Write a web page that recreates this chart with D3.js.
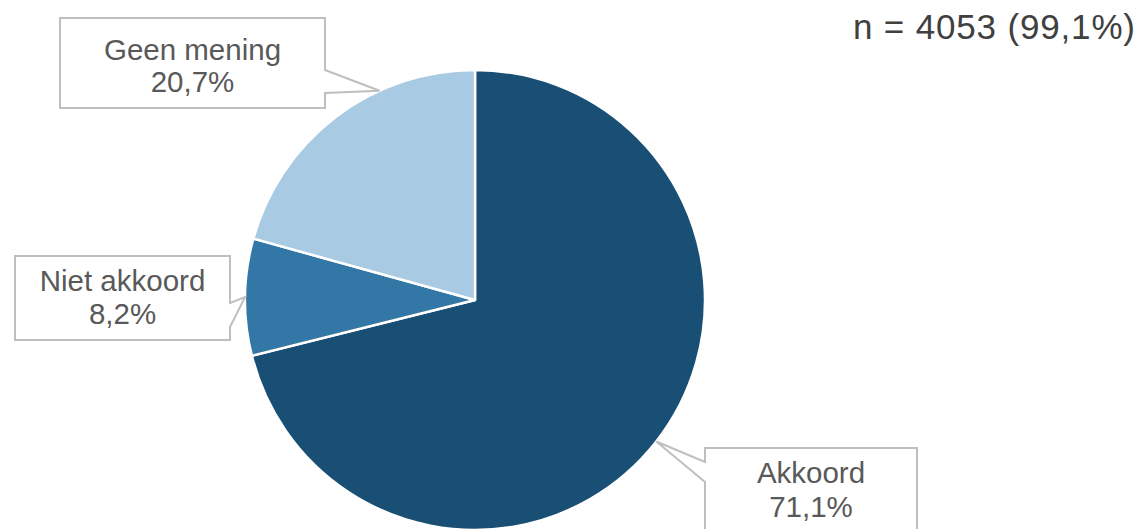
<!DOCTYPE html>
<html><head><meta charset="utf-8">
<script src="https://cdn.jsdelivr.net/npm/d3@7"></script>
<style>
html,body{margin:0;padding:0;background:#fff;}
svg{display:block;}
text{font-family:Arial,"Liberation Sans",sans-serif;fill:#595959;}
</style></head>
<body><svg id="c" width="1141" height="529"></svg>
<script>
const categories = ["Akkoord", "Niet akkoord", "Geen mening"];
const values = [71.1, 8.2, 20.7];
const valueLabels = ["71,1%", "8,2%", "20,7%"];
const colors = ["#1a4f75", "#3277a5", "#a8cbe3"];
const subtitle = "n = 4053 (99,1%)";

const W = 1141, H = 529;
const cx = 475, cy = 300, R = 230;
const svg = d3.select("#c");

const pie = d3.pie().sort(null).value(d => d.v);
const data = pie(categories.map((c, i) => ({c, v: values[i], l: valueLabels[i], col: colors[i]})));
const arc = d3.arc().innerRadius(0).outerRadius(R);

const g = svg.append("g").attr("transform", `translate(${cx},${cy})`);
g.selectAll("path").data(data).join("path")
  .attr("d", arc).attr("fill", d => d.data.col)
  .attr("stroke", "#fff").attr("stroke-width", 2.5).attr("stroke-linejoin", "round");

// callout layout: box rect [x0,y0,x1,y1], side of pointer, base span, anchor angle override
const callouts = [
  {box:[705,448,917,560], side:"left", base:[462,482], angle:null, lines:[483,517]},
  {box:[15,256,230,340], side:"right", base:[303,327], angle:null, lines:[291,324]},
  {box:[60,18,325,108], side:"right", base:[70,93], angle:-0.428, lines:[60,92]}
];

data.forEach((d, i) => {
  const co = callouts[i];
  const a = co.angle !== null ? co.angle : (d.startAngle + d.endAngle) / 2;
  const tx = cx + R * Math.sin(a), ty = cy - R * Math.cos(a);
  const [x0,y0,x1,y1] = co.box;
  let p;
  if (co.side === "left") {
    p = `M${x0},${y0}L${x1},${y0}L${x1},${y1}L${x0},${y1}L${x0},${co.base[1]}L${tx},${ty}L${x0},${co.base[0]}Z`;
  } else {
    p = `M${x0},${y0}L${x1},${y0}L${x1},${co.base[0]}L${tx},${ty}L${x1},${co.base[1]}L${x1},${y1}L${x0},${y1}Z`;
  }
  svg.append("path").attr("d", p).attr("fill", "#fff")
    .attr("stroke", "#bfbfbf").attr("stroke-width", 2).attr("stroke-linejoin", "miter");
  const mx = (x0 + x1) / 2;
  svg.append("text").attr("x", mx).attr("y", co.lines[0]).attr("text-anchor", "middle")
    .attr("font-size", 29.5).text(d.data.c);
  svg.append("text").attr("x", mx).attr("y", co.lines[1]).attr("text-anchor", "middle")
    .attr("font-size", 29.5).text(d.data.l);
});

svg.append("text").attr("x", 853).attr("y", 39).attr("text-anchor", "start")
  .attr("font-size", 35).attr("textLength", 282).attr("lengthAdjust", "spacing")
  .style("fill", "#404040").text(subtitle);
</script></body></html>
